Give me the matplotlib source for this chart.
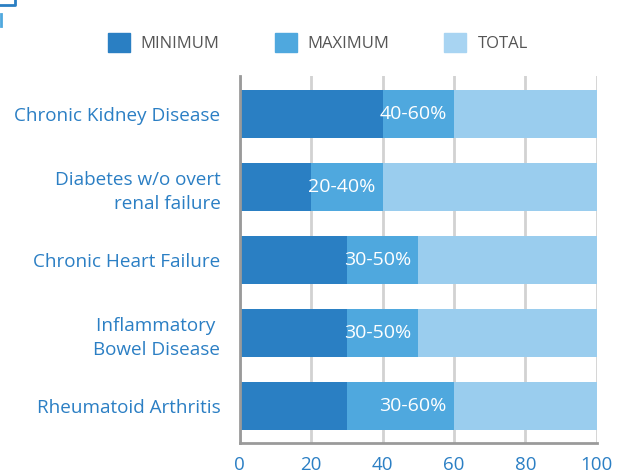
import matplotlib.pyplot as plt
from matplotlib.patches import Patch
from matplotlib.lines import Line2D

plt.rcParams['font.family'] = ['Open Sans', 'DejaVu Sans']

diseases = ['Chronic Kidney Disease', 'Diabetes w/o overt\nrenal failure',
            'Chronic Heart Failure', 'Inflammatory \nBowel Disease',
            'Rheumatoid Arthritis']
minimum = [40, 20, 30, 30, 30]
maximum = [60, 40, 50, 50, 60]
total = [100, 100, 100, 100, 100]
xticks = [0, 20, 40, 60, 80, 100]

c_min = '#2a7fc3'
c_max = '#4fa8de'
c_tot = '#9acdee'
c_text = '#2b7fc4'

fig = plt.figure(figsize=(6.23, 4.74), dpi=100)
ax = fig.add_axes([0.385, 0.065, 0.573, 0.775])

pos = list(range(len(diseases)))
h = 0.66
ax.barh(pos, total, height=h, color=c_tot, zorder=2)
ax.barh(pos, maximum, height=h, color=c_max, zorder=3)
ax.barh(pos, minimum, height=h, color=c_min, zorder=4)

for p, lo, hi in zip(pos, minimum, maximum):
    ax.text(hi - 2, p, '%d-%d%%' % (lo, hi), color='white', fontsize=14,
            ha='right', va='center', zorder=5)

ax.set_xlim(0, 100)
ax.set_ylim(4.51, -0.52)
ax.set_yticks(pos)
ax.set_yticklabels(diseases, fontsize=13.6, color=c_text, ha='right',
                   linespacing=1.45)
ax.set_xticks(xticks)
ax.set_xticklabels([str(t) for t in xticks], fontsize=13.5, color=c_text)
ax.tick_params(axis='y', length=0, pad=14)
ax.tick_params(axis='x', length=0, pad=9)
ax.grid(axis='x', color='#d2d2d2', linewidth=2, zorder=1)
for s in ['top', 'right']:
    ax.spines[s].set_visible(False)
for s in ['left', 'bottom']:
    ax.spines[s].set_color('#9a9a9a')
    ax.spines[s].set_linewidth(2)
    ax.spines[s].set_zorder(6)

handles = [Patch(color=c_min, label='MINIMUM'),
           Patch(color=c_max, label='MAXIMUM'),
           Patch(color='#a8d4f2', label='TOTAL')]
leg = fig.legend(handles=handles, loc='center', bbox_to_anchor=(0.51, 0.91),
                 ncol=3, frameon=False, fontsize=12, handlelength=1.32,
                 handleheight=1.32, columnspacing=3.3, handletextpad=0.66)
for t in leg.get_texts():
    t.set_color('#555555')

# clipped frame remnants in the top-left corner
fig.add_artist(Line2D([0, 0.024, 0.024], [0.99, 0.99, 1.0], color='#2a7fc3',
                      linewidth=2, transform=fig.transFigure))
fig.add_artist(Line2D([0.002, 0.002], [0.945, 0.97], color='#4fa8de',
                      linewidth=2, transform=fig.transFigure))

fig.savefig('out.png', dpi=100)
